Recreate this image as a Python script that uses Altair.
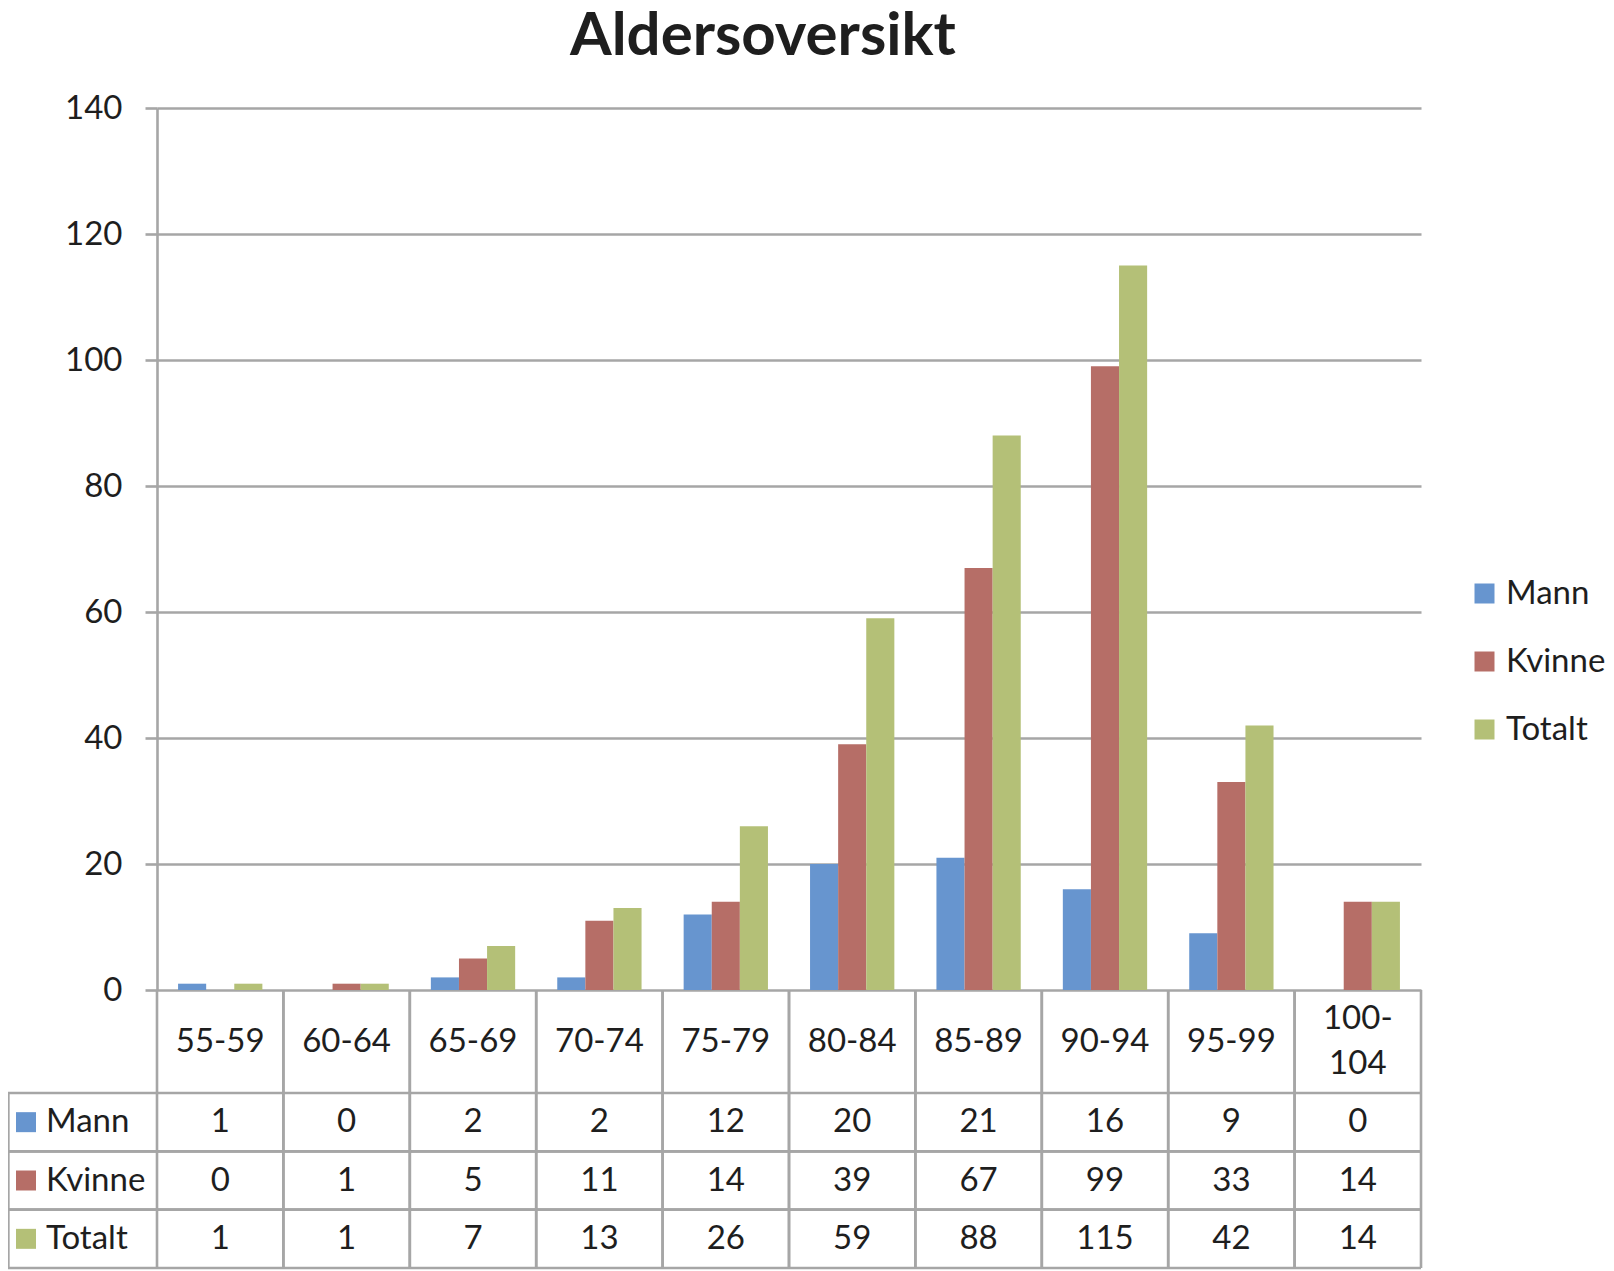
import altair as alt
import pandas as pd

# ---- data ----
categories = ["55-59", "60-64", "65-69", "70-74", "75-79",
              "80-84", "85-89", "90-94", "95-99", "100-104"]
series = ["Mann", "Kvinne", "Totalt"]
mann = [1, 0, 2, 2, 12, 20, 21, 16, 9, 0]
kvinne = [0, 1, 5, 11, 14, 39, 67, 99, 33, 14]
totalt = [1, 1, 7, 13, 26, 59, 88, 115, 42, 14]
colors = ["#6795CF", "#B66E67", "#B4C077"]
y_ticks = [0, 20, 40, 60, 80, 100, 120, 140]

values = {"Mann": mann, "Kvinne": kvinne, "Totalt": totalt}
rows = []
for s in series:
    for c, v in zip(categories, values[s]):
        rows.append({"Category": c, "Series": s, "Value": v})
df = pd.DataFrame(rows)
labels = [c if len(c) <= 5 else c.replace("-", "-\n", 1) for c in categories]
cat_df = pd.DataFrame({
    "Category": categories,
    "Label": labels,
    "Lines": [l.count("\n") + 1 for l in labels],
    "Row": ["header"] * len(categories),
})
ser_df = pd.DataFrame({"Series": series})

# ---- layout / style ----
W = 1264
PLOT_H = 882
HEAD_H = 103
H = 1160
FONT = "Lato"
FS = 33
TXT = "#1E1E1E"
LINE = "#A6A6A6"
LW = 2.6
LH = 45

cat_scale_tbl = alt.Scale(domain=categories, paddingInner=0, paddingOuter=0)
ser_scale_tbl = alt.Scale(type="band", domain=series, range=[PLOT_H + HEAD_H, H],
                          paddingInner=0, paddingOuter=0)
head_scale = alt.Scale(type="band", domain=["header"], range=[PLOT_H, PLOT_H + HEAD_H],
                       paddingInner=0, paddingOuter=0)

bars = alt.Chart(df).mark_bar().encode(
    x=alt.X("Category:N", sort=categories,
            scale=alt.Scale(domain=categories, paddingInner=0.333, paddingOuter=0.1667),
            axis=None),
    xOffset=alt.XOffset("Series:N", sort=series,
                        scale=alt.Scale(domain=series, paddingInner=0, paddingOuter=0)),
    y=alt.Y("Value:Q",
            scale=alt.Scale(domain=[0, 140], range=[PLOT_H, 0], nice=False),
            axis=alt.Axis(values=y_ticks, title=None, grid=True, gridColor=LINE,
                          gridWidth=LW, domainColor=LINE, domainWidth=LW,
                          tickColor=LINE, tickWidth=LW, tickSize=12,
                          labelFont=FONT, labelFontSize=FS, labelColor=TXT,
                          labelPadding=23)),
    color=alt.Color("Series:N", sort=series,
                    scale=alt.Scale(domain=series, range=colors),
                    legend=alt.Legend(title=None, orient="none", legendX=1311,
                                      legendY=469, direction="vertical",
                                      symbolType="square", symbolSize=400,
                                      symbolStrokeWidth=0, labelFont=FONT,
                                      labelFontSize=FS, labelColor=TXT,
                                      labelOffset=5, rowPadding=34, padding=0)),
)

header_single = alt.Chart(cat_df).transform_filter("datum.Lines == 1").mark_text(
    font=FONT, fontSize=FS, color=TXT, baseline="middle", align="center"
).encode(
    x=alt.X("Category:N", sort=categories, scale=cat_scale_tbl, axis=None),
    y=alt.Y("Row:N", scale=head_scale, axis=None),
    text="Label:N",
)
header_multi = alt.Chart(cat_df).transform_filter("datum.Lines == 2").mark_text(
    font=FONT, fontSize=FS, color=TXT, lineBreak="\n", lineHeight=LH,
    baseline="middle", align="center", dy=-LH / 2
).encode(
    x=alt.X("Category:N", sort=categories, scale=cat_scale_tbl, axis=None),
    y=alt.Y("Row:N", scale=head_scale, axis=None),
    text="Label:N",
)

cells = alt.Chart(df).mark_text(
    font=FONT, fontSize=FS, color=TXT, baseline="middle", align="center"
).encode(
    x=alt.X("Category:N", sort=categories, scale=cat_scale_tbl, axis=None),
    y=alt.Y("Series:N", sort=series, scale=ser_scale_tbl, axis=None),
    text="Value:Q",
)

row_labels = alt.Chart(ser_df).mark_text(
    font=FONT, fontSize=FS, color=TXT, baseline="middle", align="left"
).encode(
    x=alt.value(-111),
    y=alt.Y("Series:N", sort=series, scale=ser_scale_tbl, axis=None),
    text="Series:N",
)

swatches = alt.Chart(ser_df).mark_square(size=400, opacity=1, strokeWidth=0).encode(
    x=alt.value(-131),
    y=alt.Y("Series:N", sort=series, scale=ser_scale_tbl, axis=None),
    color=alt.Color("Series:N", sort=series,
                    scale=alt.Scale(domain=series, range=colors), legend=None),
)

h_top = alt.Chart(ser_df).mark_rule(color=LINE, strokeWidth=LW).encode(
    y=alt.Y("Series:N", sort=series, scale=ser_scale_tbl, bandPosition=0, axis=None),
    x=alt.value(-149), x2=alt.value("width"),
)
h_bot = alt.Chart(ser_df).mark_rule(color=LINE, strokeWidth=LW).encode(
    y=alt.Y("Series:N", sort=series, scale=ser_scale_tbl, bandPosition=1, axis=None),
    x=alt.value(-149), x2=alt.value("width"),
)
v_lines = alt.Chart(cat_df).mark_rule(color=LINE, strokeWidth=LW).encode(
    x=alt.X("Category:N", sort=categories, scale=cat_scale_tbl, bandPosition=0, axis=None),
    y=alt.value(PLOT_H), y2=alt.value(H),
)
v_end = alt.Chart(cat_df).mark_rule(color=LINE, strokeWidth=LW).encode(
    x=alt.X("Category:N", sort=categories, scale=cat_scale_tbl, bandPosition=1, axis=None),
    y=alt.value(PLOT_H), y2=alt.value(H),
)
v_left = alt.Chart(ser_df).mark_rule(color=LINE, strokeWidth=LW).encode(
    x=alt.value(-149), y=alt.value(PLOT_H + HEAD_H), y2=alt.value(H),
)

chart = alt.layer(
    bars, h_top, h_bot, v_lines, v_end, v_left,
    header_single, header_multi, cells, row_labels, swatches
).resolve_scale(
    x="independent", y="independent", color="independent"
).properties(
    width=W, height=H,
    background="white",
    padding={"left": 149, "top": 100, "right": 185, "bottom": 3},
    autosize=alt.AutoSizeParams(type="none"),
    title=alt.TitleParams("Aldersoversikt", font=FONT, fontSize=60,
                          fontWeight="bold", color=TXT, anchor="middle",
                          frame="group", dx=-26, dy=23, offset=0,
                          baseline="alphabetic"),
).configure_view(stroke=None)

chart.save("out.html", embed_options={"renderer": "svg", "actions": False})
